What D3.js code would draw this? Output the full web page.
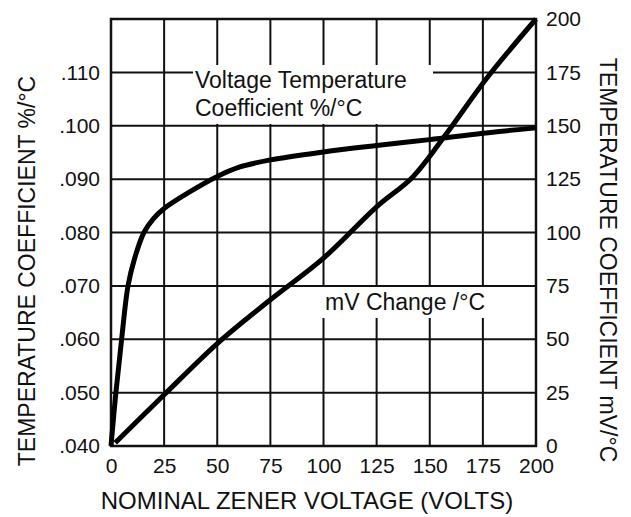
<!DOCTYPE html>
<html>
<head>
<meta charset="utf-8">
<script src="https://cdn.jsdelivr.net/npm/d3@7"></script>
<style>
  body { margin: 0; background: #fff; }
  text { font-family: "Liberation Sans", Arial, sans-serif; fill: #111; }
</style>
</head>
<body>
<div id="chart"></div>
<script>
// Zener temperature coefficient chart

// Data
const voltVolts = [0, 2.3, 5, 8, 11, 15.5, 20, 25, 37, 50, 60, 75, 100, 125, 150, 175, 200]
const voltCoeff = [0.040, 0.050, 0.060, 0.070, 0.075, 0.080, 0.0826, 0.0845, 0.0876, 0.0905, 0.0922, 0.0936, 0.0951, 0.0963, 0.0974, 0.0986, 0.0996]

const mvVolts = [2, 25, 50, 75, 100, 125, 142, 158, 177, 200]
const mvChange = [1.5, 24, 48, 68.5, 88, 112, 126, 146.5, 172.5, 200]

const xTicks = [0, 25, 50, 75, 100, 125, 150, 175, 200]
const leftTicks = [0.040, 0.050, 0.060, 0.070, 0.080, 0.090, 0.100, 0.110]
const rightTicks = [0, 25, 50, 75, 100, 125, 150, 175, 200]

const width = 631
const height = 517
const margin = { top: 19, right: 95, bottom: 71, left: 111 }

const svg = d3.select('#chart')
  .append('svg')
  .attr('width', width)
  .attr('height', height)

const x = d3.scaleLinear().domain([0, 200]).range([margin.left, width - margin.right])
const yLeft = d3.scaleLinear().domain([0.040, 0.120]).range([height - margin.bottom, margin.top])
const yRight = d3.scaleLinear().domain([0, 200]).range([height - margin.bottom, margin.top])

// Grid
const grid = svg.append('g').attr('stroke', '#111').attr('stroke-width', 2)
grid.selectAll('line.v')
  .data(xTicks.slice(1, -1))
  .join('line')
  .attr('x1', d => x(d)).attr('x2', d => x(d))
  .attr('y1', yRight(0)).attr('y2', yRight(200))
grid.selectAll('line.h')
  .data(rightTicks.slice(1, -1))
  .join('line')
  .attr('x1', x(0)).attr('x2', x(200))
  .attr('y1', d => yRight(d)).attr('y2', d => yRight(d))

// White boxes behind the curve labels
svg.append('rect')
  .attr('x', 193).attr('y', 65).attr('width', 240).attr('height', 59)
  .attr('fill', '#fff')
svg.append('rect')
  .attr('x', 320).attr('y', 287).attr('width', 168).attr('height', 31)
  .attr('fill', '#fff')

// Frame
svg.append('rect')
  .attr('x', x(0)).attr('y', yRight(200))
  .attr('width', x(200) - x(0)).attr('height', yRight(0) - yRight(200))
  .attr('fill', 'none').attr('stroke', '#111').attr('stroke-width', 2.5)

// Axes (labels only)
const xAxis = d3.axisBottom(x).tickValues(xTicks).tickSize(0).tickPadding(12)
svg.append('g')
  .attr('transform', `translate(0, ${yRight(0)})`)
  .call(xAxis)
  .call(g => g.select('.domain').remove())
  .selectAll('text').attr('font-size', 21)

const leftAxis = d3.axisLeft(yLeft).tickValues(leftTicks).tickSize(0).tickPadding(11)
  .tickFormat(d => d3.format('.3f')(d).replace(/^0/, ''))
svg.append('g')
  .attr('transform', `translate(${x(0)}, 0)`)
  .call(leftAxis)
  .call(g => g.select('.domain').remove())
  .selectAll('text').attr('font-size', 21)

const rightAxis = d3.axisRight(yRight).tickValues(rightTicks).tickSize(0).tickPadding(10)
svg.append('g')
  .attr('transform', `translate(${x(200)}, 0)`)
  .call(rightAxis)
  .call(g => g.select('.domain').remove())
  .selectAll('text').attr('font-size', 21)

svg.selectAll('.tick text').attr('fill', '#111').style('font-family', '"Liberation Sans", Arial, sans-serif')

// Curves
const lineLeft = d3.line()
  .x((d, i) => x(voltVolts[i]))
  .y(d => yLeft(d))
  .curve(d3.curveCatmullRom.alpha(0.5))
const lineRight = d3.line()
  .x((d, i) => x(mvVolts[i]))
  .y(d => yRight(d))
  .curve(d3.curveCatmullRom.alpha(0.5))

svg.append('path')
  .attr('d', lineLeft(voltCoeff))
  .attr('fill', 'none').attr('stroke', '#000').attr('stroke-width', 5)
svg.append('path')
  .attr('d', lineRight(mvChange))
  .attr('fill', 'none').attr('stroke', '#000').attr('stroke-width', 5)

// Curve labels
svg.append('text')
  .attr('x', 195).attr('y', 88).attr('font-size', 23)
  .text('Voltage Temperature')
svg.append('text')
  .attr('x', 195).attr('y', 116).attr('font-size', 23)
  .text('Coefficient %/°C')
svg.append('text')
  .attr('x', 325).attr('y', 310).attr('font-size', 23)
  .text('mV Change /°C')

// Axis titles
svg.append('text')
  .attr('x', 307).attr('y', 509).attr('font-size', 24)
  .attr('text-anchor', 'middle')
  .text('NOMINAL ZENER VOLTAGE (VOLTS)')

svg.append('text')
  .attr('transform', 'translate(35, 271) rotate(-90)')
  .attr('font-size', 23).attr('text-anchor', 'middle')
  .text('TEMPERATURE COEFFICIENT %/°C')

svg.append('text')
  .attr('transform', 'translate(600, 260) rotate(90)')
  .attr('font-size', 23).attr('text-anchor', 'middle')
  .text('TEMPERATURE COEFFICIENT mV/°C')
</script>
</body>
</html>
